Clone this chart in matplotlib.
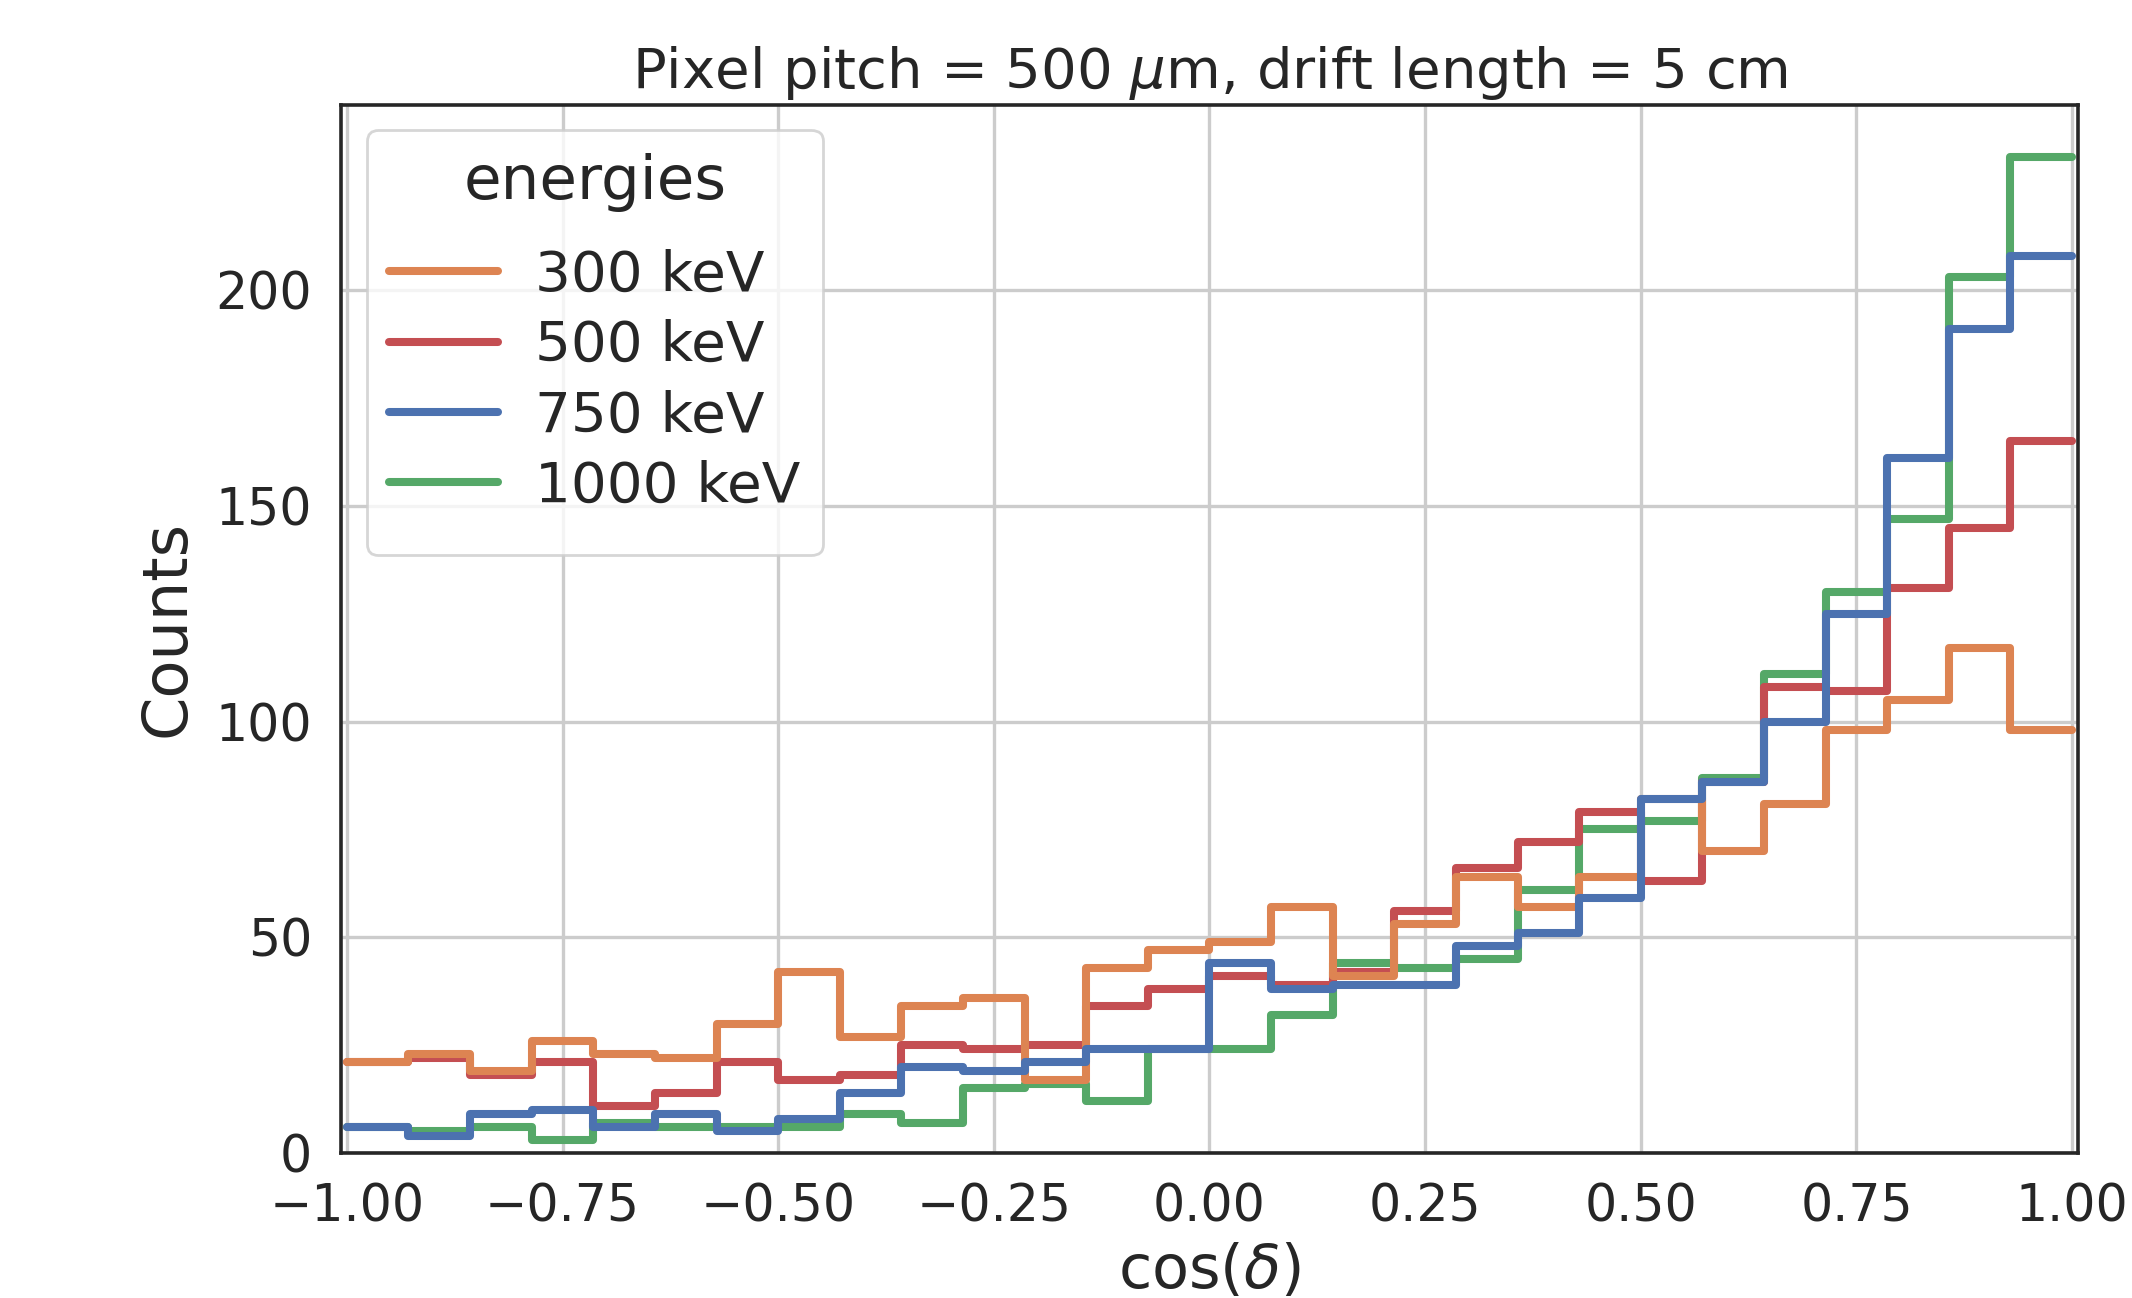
import numpy as np
import matplotlib
matplotlib.use("Agg")
import matplotlib.pyplot as plt
from matplotlib.lines import Line2D
from matplotlib.offsetbox import DrawingArea

# 28 equal bins on [-1, 1]
edges = np.linspace(-1, 1, 29)

energies = ["300 keV", "500 keV", "750 keV", "1000 keV"]
colors = ["#DD8452", "#C44E52", "#4C72B0", "#55A868"]

counts_300 = [21, 23, 19, 26, 23, 22, 30, 42, 27, 34, 36, 17, 43, 47,
              49, 57, 41, 53, 64, 57, 64, 82, 70, 81, 98, 105, 117, 98]
counts_500 = [21, 22, 18, 21, 11, 14, 21, 17, 18, 25, 24, 25, 34, 38,
              41, 39, 42, 56, 66, 72, 79, 63, 86, 108, 107, 131, 145, 165]
counts_750 = [6, 4, 9, 10, 6, 9, 5, 8, 14, 20, 19, 21, 24, 24,
              44, 38, 39, 39, 48, 51, 59, 82, 86, 100, 125, 161, 191, 208]
counts_1000 = [6, 5, 6, 3, 7, 6, 6, 6, 9, 7, 15, 16, 12, 24,
               24, 32, 44, 43, 45, 61, 75, 77, 87, 111, 130, 147, 203, 231]

all_counts = [counts_300, counts_500, counts_750, counts_1000]
zorders = [4, 3, 5, 2]

fig = plt.figure(figsize=(10.66, 6.49), dpi=200)
ax = fig.add_axes([0.1601, 0.1117, 0.8144, 0.8076])

for c, col, z in zip(all_counts, colors, zorders):
    ax.stairs(c, edges, baseline=None, color=col, linewidth=2.9,
              joinstyle="round", capstyle="round", zorder=z)

ax.set_xlim(-1.0064, 1.0064)
ax.set_ylim(0, 243)
ax.set_xticks(np.arange(-1, 1.01, 0.25))
ax.set_yticks([0, 50, 100, 150, 200])
ax.xaxis.set_major_formatter(
    matplotlib.ticker.FuncFormatter(lambda v, p: f"{v:.2f}".replace("-", "\u2212")))

ax.grid(True, color=".8", linewidth=1.2, zorder=0)
ax.set_axisbelow(True)
for s in ax.spines.values():
    s.set_color(".15")
    s.set_linewidth(1.3)
ax.tick_params(length=0, pad=10.5, labelsize=18.2, labelcolor=".15")

ax.set_xlabel(r"cos($\delta$)", fontsize=21.8, color=".15", labelpad=3.5)
ax.set_ylabel("Counts", fontsize=22.4, color=".15", labelpad=6.5)
ax.set_title(r"Pixel pitch = 500 $\mu$m, drift length = 5 cm",
             fontsize=20.2, color=".15", pad=6)

handles = [Line2D([], [], color=col, linewidth=2.9, solid_capstyle="round")
           for col in colors]
leg = ax.legend(handles, energies, title="energies", loc="upper left",
                fontsize=20.3, title_fontsize=22, labelspacing=0.285,
                handlelength=1.93, handletextpad=0.65, borderaxespad=0.45,
                frameon=True, fancybox=True, edgecolor=".8", framealpha=0.8)
leg.get_title().set_color(".15")
for t in leg.get_texts():
    t.set_color(".15")
# extra room under the title and below the last entry, as in the original
box = leg._legend_box
box.sep = 0
box._children = [box._children[0], DrawingArea(1, 13.5),
                 box._children[1], DrawingArea(1, 7)]

fig.savefig("out.png", dpi=200)
